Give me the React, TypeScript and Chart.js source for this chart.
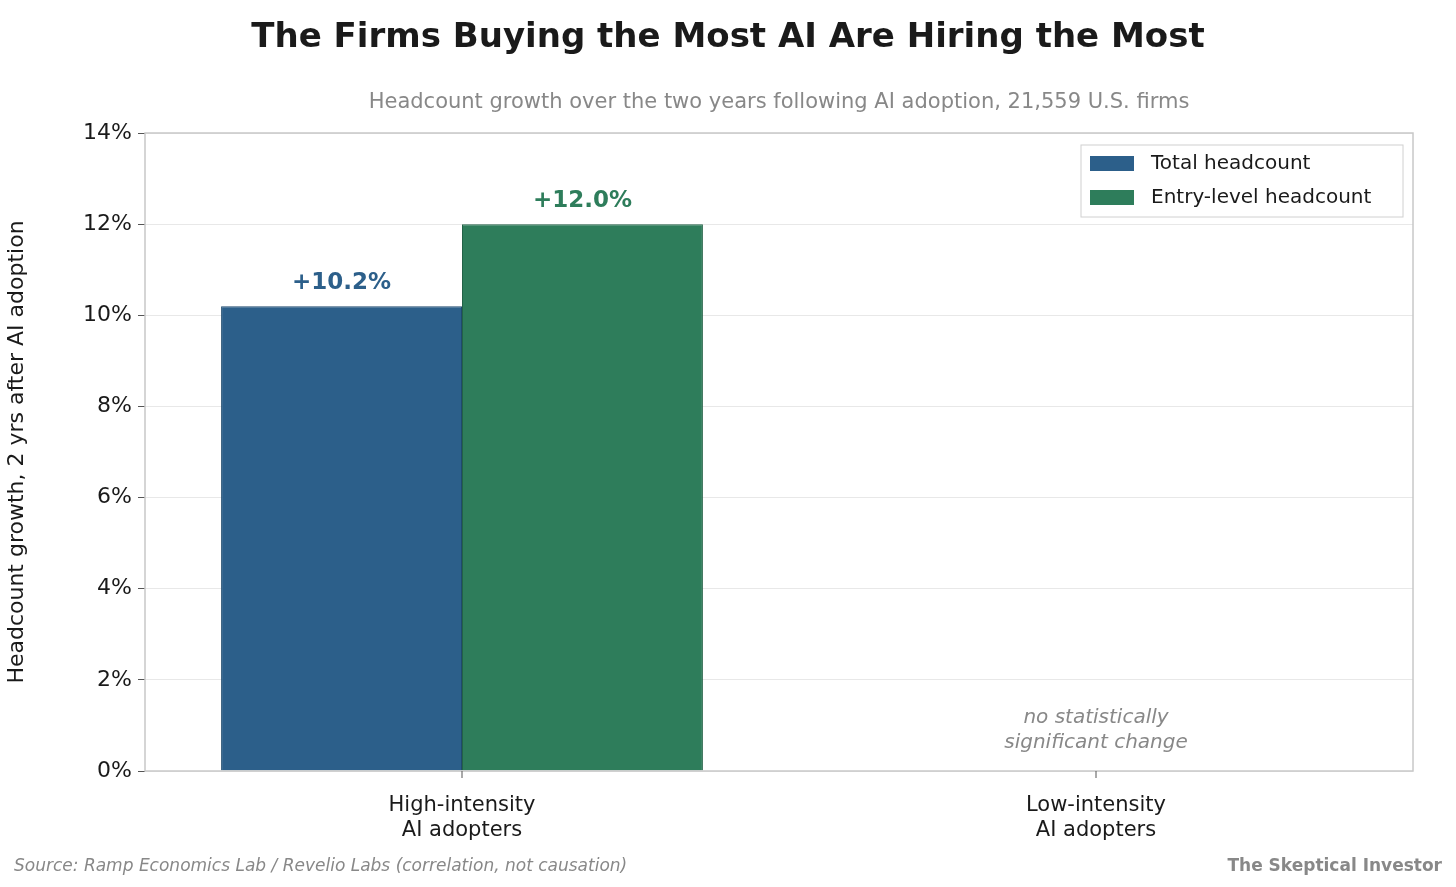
import React, { useEffect, useRef } from "react";
import { Chart, registerables } from "chart.js";
Chart.register(...registerables);

const categories = [["High-intensity", "AI adopters"], ["Low-intensity", "AI adopters"]];
const totalHeadcount = [10.2, 0];
const entryHeadcount = [12.0, 0];
const valueLabels = [["+10.2%", null], ["+12.0%", null]];
const seriesNames = ["Total headcount", "Entry-level headcount"];
const colors = ["#2c5f8a", "#2e7d5b"];
const F = "'DejaVu Sans', sans-serif";

export default function App() {
  const ref = useRef<HTMLCanvasElement>(null);
  useEffect(() => {
    document.body.style.margin = "0";
    const deco = {
      id: "deco",
      afterDatasetsDraw(c: any) {
        const ctx = c.ctx;
        const a = c.chartArea;
        ctx.save();
        ctx.strokeStyle = "#c8c8c8";
        ctx.lineWidth = 1.5;
        ctx.strokeRect(a.left, a.top, a.right - a.left, a.bottom - a.top);
        // x ticks
        const xs = c.scales.x;
        ctx.strokeStyle = "#555";
        ctx.lineWidth = 1;
        categories.forEach((_, i) => {
          const x = xs.getPixelForValue(i);
          ctx.beginPath(); ctx.moveTo(x, a.bottom); ctx.lineTo(x, a.bottom + 7); ctx.stroke();
        });
        // value labels
        ctx.textAlign = "center";
        ctx.textBaseline = "bottom";
        ctx.font = `bold 23px ${F}`;
        [0, 1].forEach((d) => {
          const meta = c.getDatasetMeta(d);
          valueLabels[d].forEach((l, i) => {
            if (!l) return;
            const el = meta.data[i];
            ctx.fillStyle = colors[d];
            ctx.fillText(l, el.x, el.y - 12);
          });
        });
        // annotation
        ctx.font = `italic 20px ${F}`;
        ctx.fillStyle = "#888";
        const x1 = xs.getPixelForValue(1);
        ctx.fillText("no statistically", x1, 728);
        ctx.fillText("significant change", x1, 753);
        // titles
        ctx.fillStyle = "#1a1a1a";
        ctx.font = `bold 34px ${F}`;
        ctx.textBaseline = "middle";
        ctx.fillText("The Firms Buying the Most AI Are Hiring the Most", 728, 38);
        ctx.fillStyle = "#888";
        ctx.font = `21px ${F}`;
        ctx.fillText("Headcount growth over the two years following AI adoption, 21,559 U.S. firms", 779, 103);
        // footer
        ctx.textAlign = "left";
        ctx.font = `italic 17px ${F}`;
        ctx.fillText("Source: Ramp Economics Lab / Revelio Labs (correlation, not causation)", 14, 867);
        ctx.textAlign = "right";
        ctx.font = `bold 17px ${F}`;
        ctx.fillText("The Skeptical Investor", 1442, 867);
        // legend
        const lx = 1081, ly = 145, lw = 322, lh = 72;
        ctx.fillStyle = "rgba(255,255,255,0.85)";
        ctx.fillRect(lx, ly, lw, lh);
        ctx.strokeStyle = "#d0d0d0";
        ctx.strokeRect(lx, ly, lw, lh);
        ctx.textAlign = "left";
        ctx.font = `20px ${F}`;
        seriesNames.forEach((n, i) => {
          const y = ly + 18 + i * 34;
          ctx.fillStyle = colors[i];
          ctx.fillRect(lx + 9, y - 7, 44, 15);
          ctx.fillStyle = "#1a1a1a";
          ctx.fillText(n, lx + 70, y + 1);
        });
        ctx.restore();
      },
    };
    const chart = new Chart(ref.current!, {
      type: "bar",
      data: {
        labels: categories as any,
        datasets: [
          { label: seriesNames[0], data: totalHeadcount, backgroundColor: colors[0], borderColor: "#1f4a6e", borderWidth: 1 },
          { label: seriesNames[1], data: entryHeadcount, backgroundColor: colors[1], borderColor: "#236247", borderWidth: 1 },
        ],
      },
      options: {
        animation: false,
        responsive: false,
        layout: { padding: { top: 133, right: 43, left: 0, bottom: 0 } },
        datasets: { bar: { categoryPercentage: 0.76, barPercentage: 1.0 } },
        plugins: { legend: { display: false }, tooltip: { enabled: false } },
        scales: {
          x: {
            grid: { display: false },
            border: { display: false },
            ticks: { color: "#1a1a1a", font: { family: F, size: 21 }, padding: 14 },
            afterFit: (s: any) => { s.height = 116; },
          },
          y: {
            min: 0, max: 14,
            ticks: { stepSize: 2, color: "#1a1a1a", font: { family: F, size: 22 }, padding: 6, callback: (v: any) => v + "%" },
            grid: { color: "#e8e8e8", tickColor: "#555", tickLength: 7 },
            border: { display: false },
            title: { display: true, text: "Headcount growth, 2 yrs after AI adoption", color: "#1a1a1a", font: { family: F, size: 22 }, padding: { bottom: 8 } },
            afterFit: (s: any) => { s.width = 145; },
          },
        },
      },
      plugins: [deco],
    });
    return () => chart.destroy();
  }, []);
  return <canvas ref={ref} width={1456} height={887} style={{ display: "block" }} />;
}
